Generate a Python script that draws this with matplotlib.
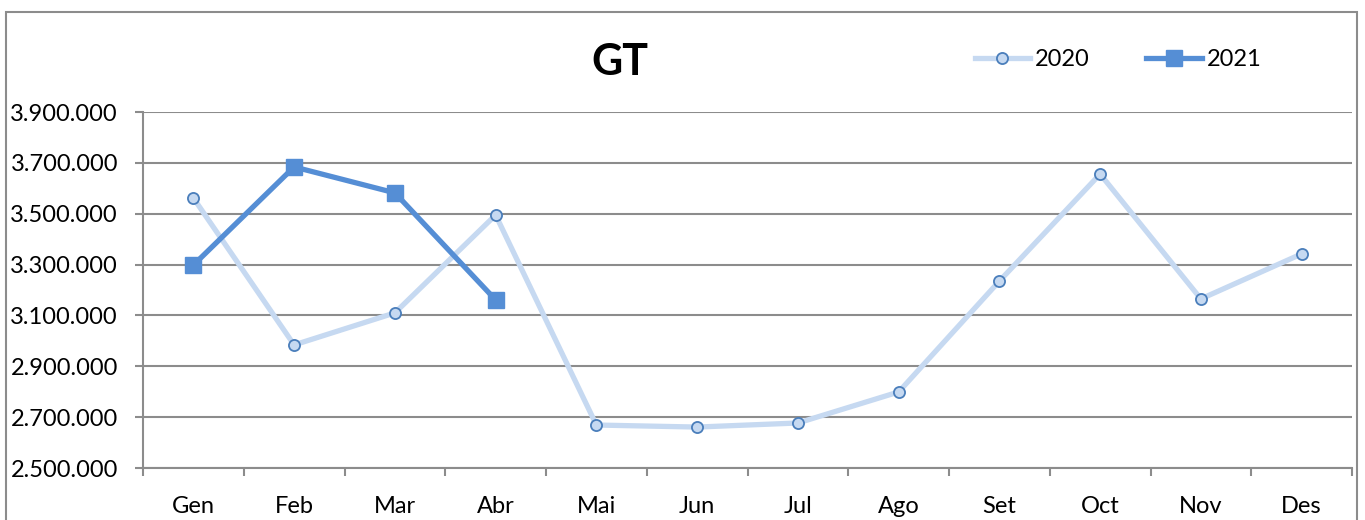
import numpy as np
from matplotlib import pyplot as plt
from matplotlib.patches import Rectangle
from matplotlib.lines import Line2D
from matplotlib.ticker import FuncFormatter

months = ['Gen', 'Feb', 'Mar', 'Abr', 'Mai', 'Jun', 'Jul', 'Ago', 'Set', 'Oct', 'Nov', 'Des']
y2020 = [3562000, 2984000, 3110000, 3495000, 2669000, 2661000, 2677000, 2799000,
         3235000, 3656000, 3165000, 3342000]
months2021 = ['Gen', 'Feb', 'Mar', 'Abr']
y2021 = [3298000, 3684000, 3582000, 3161000]
yticks = [2500000, 2700000, 2900000, 3100000, 3300000, 3500000, 3700000, 3900000]

plt.rcParams['font.family'] = ['Lato', 'DejaVu Sans']

c2020 = '#c6d9f1'
c2020_edge = '#4a7ebb'
c2021 = '#558ed5'
grid = '#8c8c8c'

fig = plt.figure(figsize=(13.65, 5.2), dpi=100)
ax = fig.add_axes([143/1365, 1-468/520, (1352-143)/1365, (468-112)/520])

x20 = np.arange(len(months))
x21 = [months.index(m) for m in months2021]

ax.plot(x20, y2020, color=c2020, lw=3.8, marker='o', ms=8,
        mfc=c2020, mec=c2020_edge, mew=1.3, zorder=3, clip_on=False)
ax.plot(x21, y2021, color=c2021, lw=3.8, marker='s', ms=11,
        mfc=c2021, mec=c2021, zorder=4, clip_on=False)

ax.set_xlim(-0.5, 11.5)
ax.set_ylim(2500000, 3900000)
ax.set_yticks(yticks)
ax.yaxis.set_major_formatter(FuncFormatter(lambda v, p: f'{v:,.0f}'.replace(',', '.')))
ax.grid(axis='y', color=grid, lw=1.5)
ax.set_axisbelow(True)

ax.set_xticks(np.arange(-0.5, 12, 1))
ax.set_xticklabels([])
ax.set_xticks(x20, minor=True)
ax.set_xticklabels(months, minor=True)
ax.tick_params(axis='x', which='major', length=6, width=1.5, color=grid)
ax.tick_params(axis='x', which='minor', length=0, pad=20, labelsize=17)
ax.tick_params(axis='y', length=6, width=1.5, color=grid, pad=12, labelsize=17)

for s in ['top', 'right']:
    ax.spines[s].set_visible(False)
for s in ['left', 'bottom']:
    ax.spines[s].set_color(grid)
    ax.spines[s].set_linewidth(1.5)

fig.text(620/1365, 1-62/520, 'GT', fontsize=31, fontweight='bold',
         ha='center', va='center')

handles = [
    Line2D([], [], color=c2020, lw=3.8, marker='o', ms=8, mfc=c2020, mec=c2020_edge, mew=1.3),
    Line2D([], [], color=c2021, lw=3.8, marker='s', ms=11, mfc=c2021, mec=c2021),
]
fig.legend(handles, ['2020', '2021'], loc='center', bbox_to_anchor=(1118/1365, 1-60/520),
           ncol=2, frameon=False, fontsize=17, handlelength=2.35, handletextpad=0.2,
           columnspacing=2.4)

fig.patches.append(Rectangle((6/1365, -0.05), (1357-6)/1365, 1.05-12/520,
                             transform=fig.transFigure, fill=False,
                             edgecolor='#8c8c8c', lw=1.5))

plt.savefig('out.png', dpi=100)
